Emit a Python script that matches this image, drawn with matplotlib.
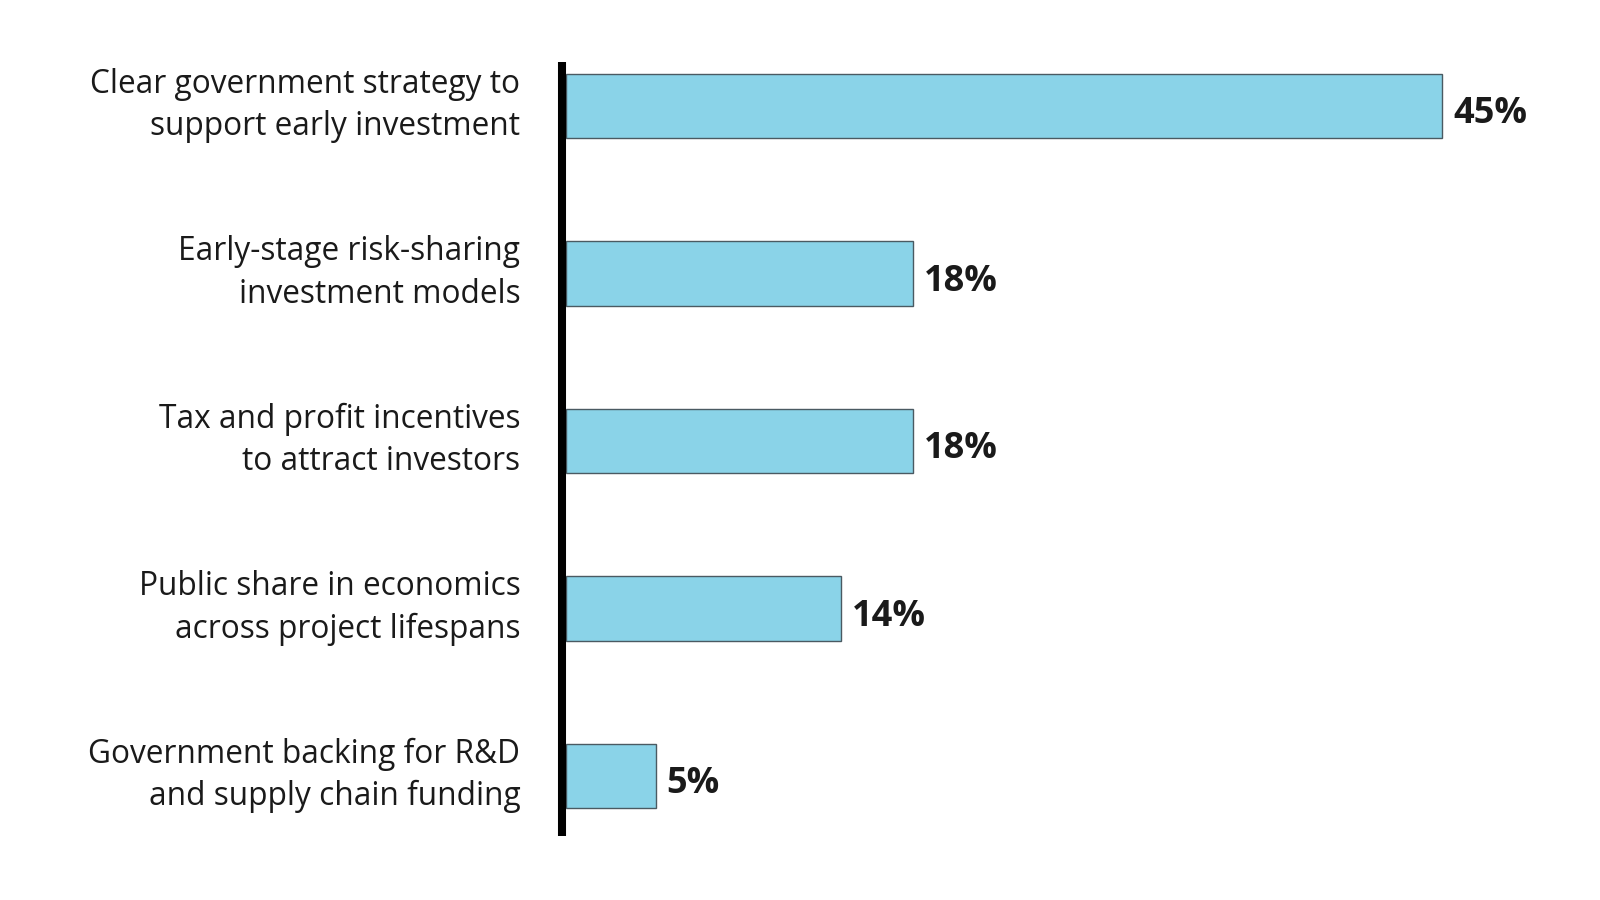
import matplotlib
matplotlib.use("Agg")
import matplotlib.pyplot as plt

categories = [
    "Clear government strategy to\nsupport early investment",
    "Early-stage risk-sharing\ninvestment models",
    "Tax and profit incentives\nto attract investors",
    "Public share in economics\nacross project lifespans",
    "Government backing for R&D\nand supply chain funding",
]
values = [45, 17.8, 17.8, 14.1, 4.6]
value_labels = ["45%", "18%", "18%", "14%", "5%"]

top_px, bot_px = 62, 836
fig = plt.figure(figsize=(16, 9), dpi=100)
ax = fig.add_axes([562 / 1600, 1 - bot_px / 900, 1 - 562 / 1600, (bot_px - top_px) / 900])

pos = list(range(len(categories)))
ax.barh(pos, values, height=0.388, color="#8AD3E8", edgecolor="#4a5a62",
        linewidth=1.0, zorder=1)

pxu = 19.47
unit = 167.5
ax.set_xlim(-4 / pxu, (1600 - 562) / pxu - 4 / pxu)
ax.set_ylim(len(categories) - 1 + (bot_px - 776) / unit, -(106 - top_px) / unit)

for s in ["top", "right", "bottom"]:
    ax.spines[s].set_visible(False)
ax.spines["left"].set_linewidth(5.8)
ax.spines["left"].set_color("#000000")
ax.spines["left"].set_capstyle("butt")
ax.spines["left"].set_zorder(3)
ax.set_xticks([])
ax.set_yticks(pos)
ax.set_yticklabels([])
ax.tick_params(axis="y", length=0)

for p, cat in zip(pos, categories):
    ax.annotate(cat, (0, p), xycoords=("axes fraction", "data"),
                xytext=(-30, 0.5), textcoords="offset points",
                ha="right", va="center", multialignment="right",
                fontsize=22.8, family="Open Sans", fontweight=500,
                color="#1a1a1a", linespacing=1.38)

for p, v, lab in zip(pos, values, value_labels):
    ax.annotate(lab, (v, p), xytext=(8, -6), textcoords="offset points",
                ha="left", va="center", fontsize=26, fontweight="bold",
                family="Open Sans", color="#1a1a1a")

fig.savefig("out.png", dpi=100, facecolor="white")
